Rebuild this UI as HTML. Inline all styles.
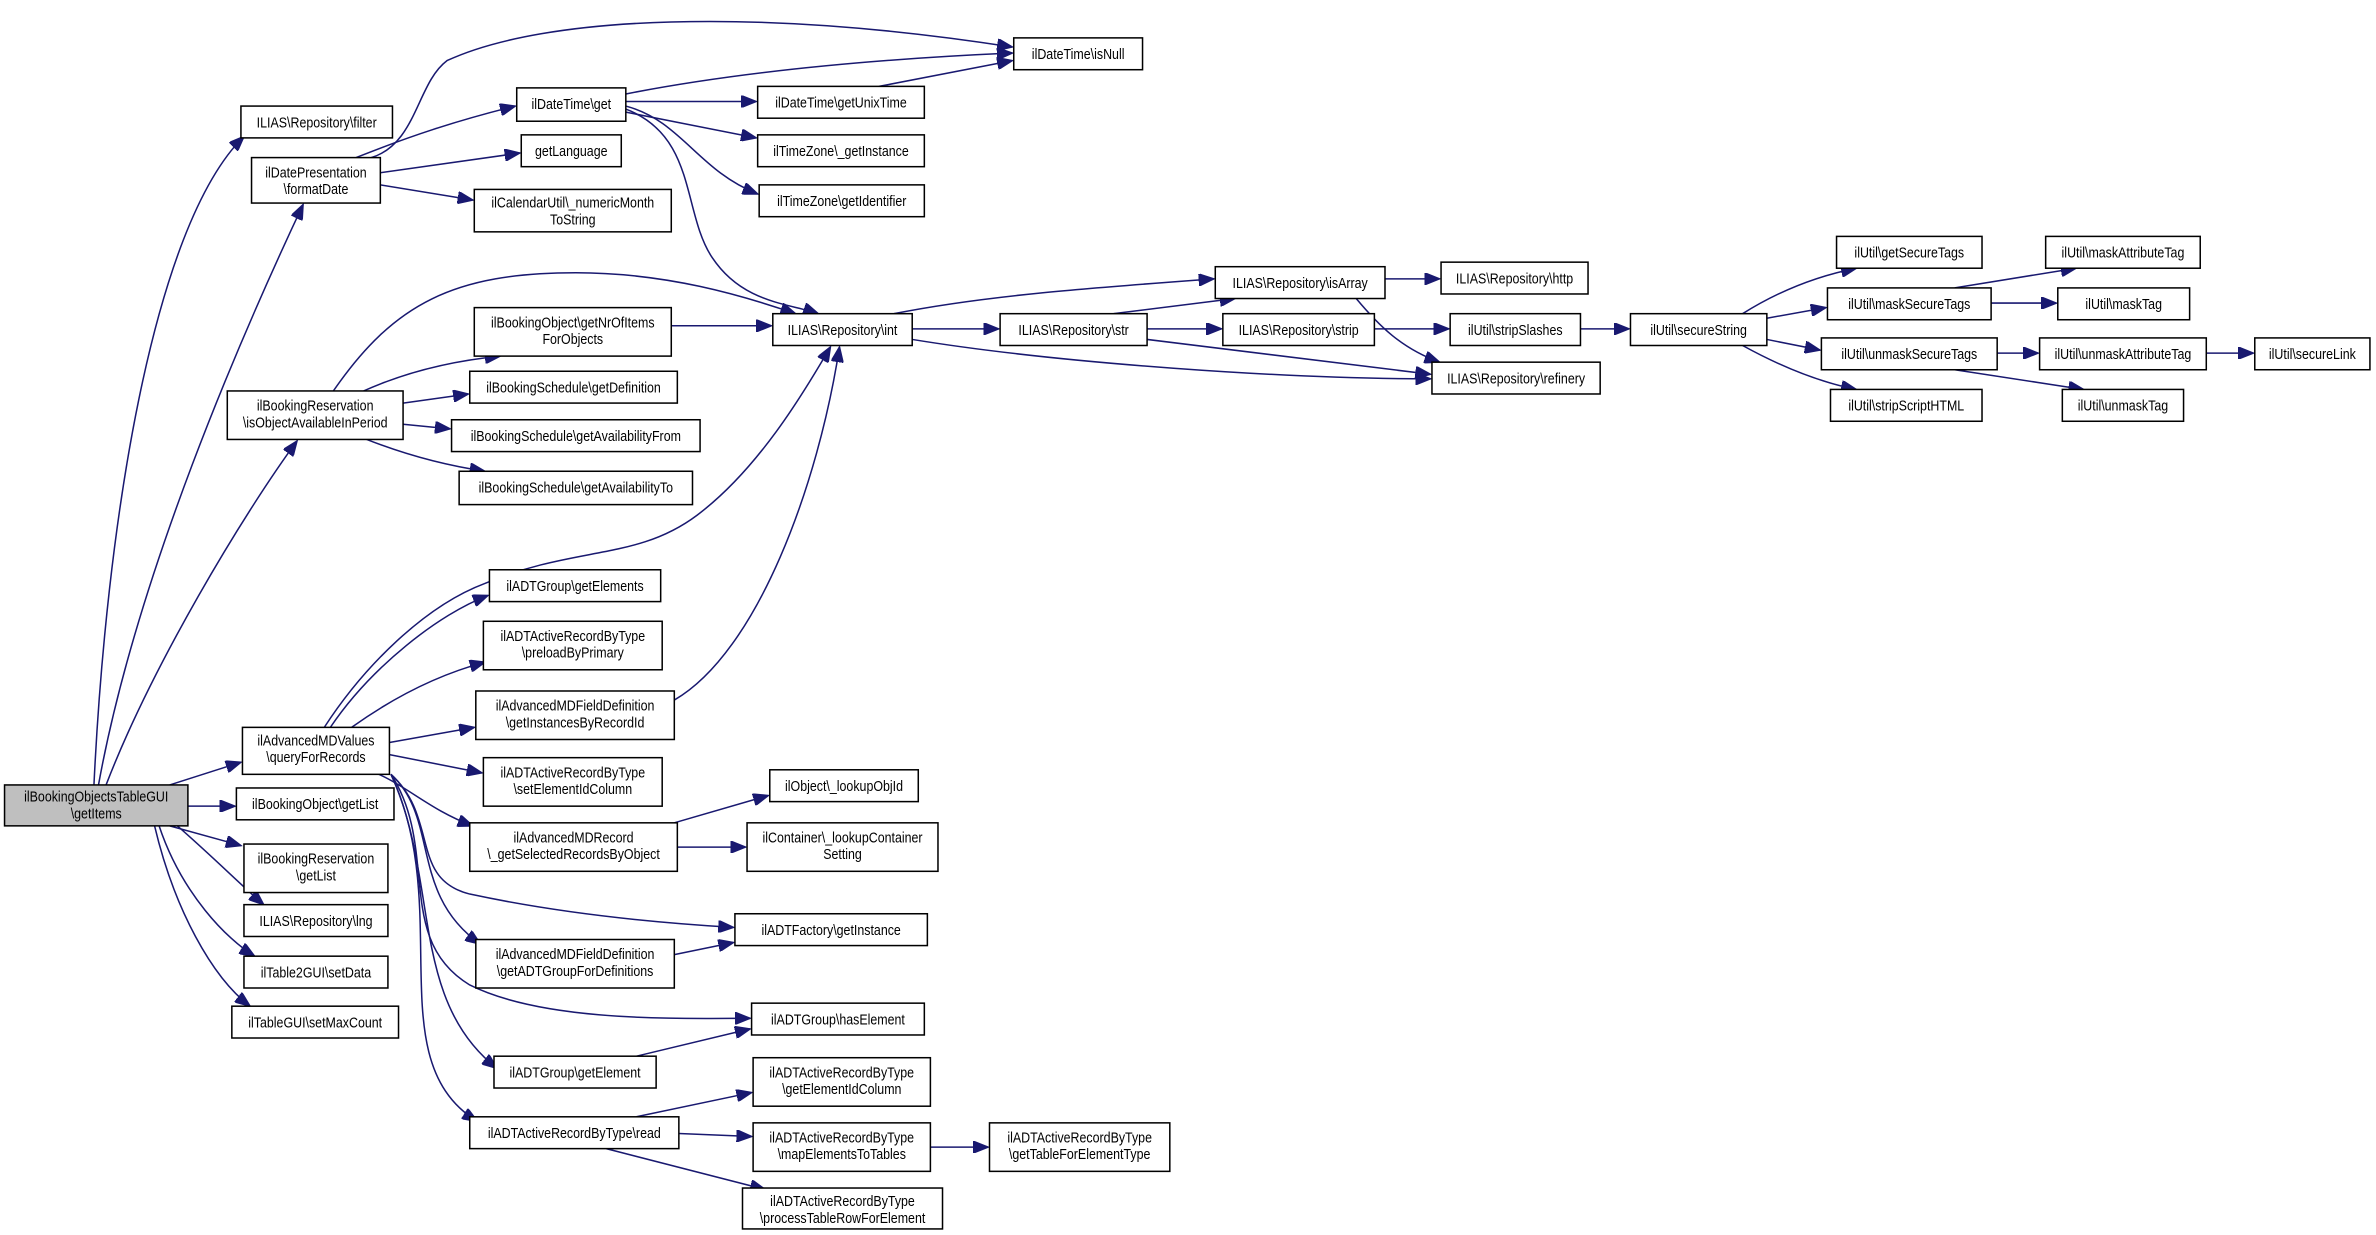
<!DOCTYPE html>
<html><head><meta charset="utf-8"><style>
html,body{margin:0;padding:0;background:#fff;}
svg{display:block;}
text{font-family:"Liberation Sans",sans-serif;font-size:10px;fill:#000;}
.b{fill:#fff;stroke:#000;stroke-width:1;}
.e{fill:none;stroke:#191970;stroke-width:1;}
</style></head><body>
<svg width="2376" height="1235" viewBox="0 0 1568 815" preserveAspectRatio="none" xmlns="http://www.w3.org/2000/svg">
<defs><marker id="a" markerUnits="userSpaceOnUse" markerWidth="11" markerHeight="8" refX="10" refY="4" orient="auto"><path d="M0,0 L10,4 L0,8 z" fill="#191970" stroke="#191970"/></marker></defs>
<g class="e" marker-end="url(#a)">
<path d="M62,518 C70,350 100,150 161,90"/>
<path d="M65,518 C90,380 160,220 200,135"/>
<path d="M70,518 C100,440 160,340 196,291"/>
<path d="M112,518 L159,503"/>
<path d="M124,532 L155,532"/>
<path d="M112,545 L159,558"/>
<path d="M117,545 C140,565 160,585 174,597"/>
<path d="M105,545 C120,590 150,620 168,631"/>
<path d="M102,545 C115,600 140,645 165,664"/>
<path d="M245,104 C275,95 275,55 295,40 C360,10 500,5 668,31"/>
<path d="M235,104 C270,90 300,80 340,70"/>
<path d="M251,114 L343,101"/>
<path d="M251,122 L312,132"/>
<path d="M413,62 C500,45 600,38 668,35"/>
<path d="M413,67 L499,67"/>
<path d="M413,74 L499,91"/>
<path d="M413,70 C450,80 460,112 500,128"/>
<path d="M413,72 C460,90 450,140 470,170 C490,200 520,200 540,207"/>
<path d="M580,57 L668,40"/>
<path d="M220,258 C260,200 300,180 380,180 C440,180 490,195 525,207"/>
<path d="M240,258 Q280,240 330,235"/>
<path d="M266,266 L309,260"/>
<path d="M266,280 L297,283"/>
<path d="M242,290 Q280,305 320,311"/>
<path d="M443,215 L509,215"/>
<path d="M214,480 C240,440 280,400 320,385 C380,360 420,370 460,340 C500,310 530,260 548,229"/>
<path d="M218,480 C245,440 290,405 322,393"/>
<path d="M232,480 C260,460 290,445 320,437"/>
<path d="M257,490 L313,480"/>
<path d="M257,498 L318,510"/>
<path d="M250,511 C270,520 285,535 312,545"/>
<path d="M258,511 C290,540 270,580 310,590 C380,605 450,610 484,612"/>
<path d="M258,511 C290,540 270,590 317,623"/>
<path d="M258,511 C290,560 260,620 310,650 C360,675 450,672 495,672"/>
<path d="M258,511 C290,580 270,660 328,705"/>
<path d="M258,511 C300,600 250,700 315,740"/>
<path d="M445,462 C500,430 540,320 554,229"/>
<path d="M445,543 L507,525"/>
<path d="M447,559 L492,559"/>
<path d="M445,630 L484,622"/>
<path d="M420,697 L495,679"/>
<path d="M420,737 L496,721"/>
<path d="M448,748 L496,750"/>
<path d="M400,758 L505,785"/>
<path d="M614,757 L652,757"/>
<path d="M590,207 C650,195 720,190 801,184"/>
<path d="M602,217 L659,217"/>
<path d="M602,224 C700,240 850,250 944,250"/>
<path d="M735,207 L815,197"/>
<path d="M757,217 L806,217"/>
<path d="M757,224 L944,247"/>
<path d="M914,184 L950,184"/>
<path d="M895,197 C910,215 925,230 950,239"/>
<path d="M907,217 L956,217"/>
<path d="M1043,217 L1075,217"/>
<path d="M1150,207 Q1185,185 1225,177"/>
<path d="M1166,210 L1205,203"/>
<path d="M1166,224 L1201,231"/>
<path d="M1150,228 Q1190,250 1225,257"/>
<path d="M1290,190 L1370,177"/>
<path d="M1314,200 L1357,200"/>
<path d="M1318,233 L1345,233"/>
<path d="M1290,244 L1375,257"/>
<path d="M1456,233 L1487,233"/>
</g>
<g id="nodes"></g>
<rect x="3" y="518" width="121" height="27" fill="#bfbfbf" stroke="#000"/>
<rect class="b" x="159" y="70" width="100" height="21"/>
<rect class="b" x="166" y="104" width="85" height="30"/>
<rect class="b" x="150" y="258" width="116" height="32"/>
<rect class="b" x="160" y="480" width="97" height="31"/>
<rect class="b" x="156" y="520" width="104" height="21"/>
<rect class="b" x="161" y="557" width="95" height="32"/>
<rect class="b" x="161" y="597" width="95" height="21"/>
<rect class="b" x="161" y="631" width="95" height="21"/>
<rect class="b" x="153" y="664" width="110" height="21"/>
<rect class="b" x="341" y="58" width="72" height="22"/>
<rect class="b" x="344" y="89" width="66" height="21"/>
<rect class="b" x="313" y="125" width="130" height="28"/>
<rect class="b" x="313" y="203" width="130" height="32"/>
<rect class="b" x="310" y="245" width="137" height="21"/>
<rect class="b" x="298" y="277" width="164" height="21"/>
<rect class="b" x="303" y="311" width="154" height="22"/>
<rect class="b" x="323" y="376" width="113" height="21"/>
<rect class="b" x="319" y="410" width="118" height="32"/>
<rect class="b" x="314" y="456" width="131" height="32"/>
<rect class="b" x="319" y="500" width="118" height="32"/>
<rect class="b" x="310" y="543" width="137" height="32"/>
<rect class="b" x="314" y="620" width="131" height="32"/>
<rect class="b" x="326" y="697" width="107" height="21"/>
<rect class="b" x="310" y="737" width="138" height="21"/>
<rect class="b" x="669" y="25" width="85" height="21"/>
<rect class="b" x="500" y="57" width="110" height="21"/>
<rect class="b" x="500" y="89" width="110" height="21"/>
<rect class="b" x="501" y="122" width="109" height="21"/>
<rect class="b" x="510" y="207" width="92" height="21"/>
<rect class="b" x="508" y="508" width="98" height="21"/>
<rect class="b" x="493" y="543" width="126" height="32"/>
<rect class="b" x="485" y="603" width="127" height="21"/>
<rect class="b" x="496" y="662" width="114" height="21"/>
<rect class="b" x="497" y="698" width="117" height="32"/>
<rect class="b" x="497" y="741" width="117" height="32"/>
<rect class="b" x="490" y="784" width="132" height="27"/>
<rect class="b" x="653" y="741" width="119" height="32"/>
<rect class="b" x="802" y="176" width="112" height="21"/>
<rect class="b" x="660" y="207" width="97" height="21"/>
<rect class="b" x="807" y="207" width="100" height="21"/>
<rect class="b" x="951" y="173" width="97" height="21"/>
<rect class="b" x="957" y="207" width="86" height="21"/>
<rect class="b" x="945" y="239" width="111" height="21"/>
<rect class="b" x="1076" y="207" width="90" height="21"/>
<rect class="b" x="1212" y="156" width="96" height="21"/>
<rect class="b" x="1206" y="190" width="108" height="21"/>
<rect class="b" x="1202" y="223" width="116" height="21"/>
<rect class="b" x="1208" y="257" width="100" height="21"/>
<rect class="b" x="1350" y="156" width="102" height="21"/>
<rect class="b" x="1358" y="190" width="87" height="21"/>
<rect class="b" x="1346" y="223" width="110" height="21"/>
<rect class="b" x="1361" y="257" width="80" height="21"/>
<rect class="b" x="1488" y="223" width="76" height="21"/>
<g text-anchor="middle">
<text transform="translate(63.5,529) scale(0.82,1)">ilBookingObjectsTableGUI</text>
<text transform="translate(63.5,540) scale(0.82,1)">\getItems</text>
<text transform="translate(209,84) scale(0.82,1)">ILIAS\Repository\filter</text>
<text transform="translate(208.5,117) scale(0.82,1)">ilDatePresentation</text>
<text transform="translate(208.5,128) scale(0.82,1)">\formatDate</text>
<text transform="translate(208,271) scale(0.82,1)">ilBookingReservation</text>
<text transform="translate(208,282) scale(0.82,1)">\isObjectAvailableInPeriod</text>
<text transform="translate(208.5,492) scale(0.82,1)">ilAdvancedMDValues</text>
<text transform="translate(208.5,503) scale(0.82,1)">\queryForRecords</text>
<text transform="translate(208,534) scale(0.82,1)">ilBookingObject\getList</text>
<text transform="translate(208.5,570) scale(0.82,1)">ilBookingReservation</text>
<text transform="translate(208.5,581) scale(0.82,1)">\getList</text>
<text transform="translate(208.5,611) scale(0.82,1)">ILIAS\Repository\lng</text>
<text transform="translate(208.5,645) scale(0.82,1)">ilTable2GUI\setData</text>
<text transform="translate(208,678) scale(0.82,1)">ilTableGUI\setMaxCount</text>
<text transform="translate(377,72) scale(0.82,1)">ilDateTime\get</text>
<text transform="translate(377,103) scale(0.82,1)">getLanguage</text>
<text transform="translate(378,137) scale(0.82,1)">ilCalendarUtil\_numericMonth</text>
<text transform="translate(378,148) scale(0.82,1)">ToString</text>
<text transform="translate(378,216) scale(0.82,1)">ilBookingObject\getNrOfItems</text>
<text transform="translate(378,227) scale(0.82,1)">ForObjects</text>
<text transform="translate(378.5,259) scale(0.82,1)">ilBookingSchedule\getDefinition</text>
<text transform="translate(380,291) scale(0.82,1)">ilBookingSchedule\getAvailabilityFrom</text>
<text transform="translate(380,325) scale(0.82,1)">ilBookingSchedule\getAvailabilityTo</text>
<text transform="translate(379.5,390) scale(0.82,1)">ilADTGroup\getElements</text>
<text transform="translate(378,423) scale(0.82,1)">ilADTActiveRecordByType</text>
<text transform="translate(378,434) scale(0.82,1)">\preloadByPrimary</text>
<text transform="translate(379.5,469) scale(0.82,1)">ilAdvancedMDFieldDefinition</text>
<text transform="translate(379.5,480) scale(0.82,1)">\getInstancesByRecordId</text>
<text transform="translate(378,513) scale(0.82,1)">ilADTActiveRecordByType</text>
<text transform="translate(378,524) scale(0.82,1)">\setElementIdColumn</text>
<text transform="translate(378.5,556) scale(0.82,1)">ilAdvancedMDRecord</text>
<text transform="translate(378.5,567) scale(0.82,1)">\_getSelectedRecordsByObject</text>
<text transform="translate(379.5,633) scale(0.82,1)">ilAdvancedMDFieldDefinition</text>
<text transform="translate(379.5,644) scale(0.82,1)">\getADTGroupForDefinitions</text>
<text transform="translate(379.5,711) scale(0.82,1)">ilADTGroup\getElement</text>
<text transform="translate(379,751) scale(0.82,1)">ilADTActiveRecordByType\read</text>
<text transform="translate(711.5,39) scale(0.82,1)">ilDateTime\isNull</text>
<text transform="translate(555,71) scale(0.82,1)">ilDateTime\getUnixTime</text>
<text transform="translate(555,103) scale(0.82,1)">ilTimeZone\_getInstance</text>
<text transform="translate(555.5,136) scale(0.82,1)">ilTimeZone\getIdentifier</text>
<text transform="translate(556,221) scale(0.82,1)">ILIAS\Repository\int</text>
<text transform="translate(557,522) scale(0.82,1)">ilObject\_lookupObjId</text>
<text transform="translate(556,556) scale(0.82,1)">ilContainer\_lookupContainer</text>
<text transform="translate(556,567) scale(0.82,1)">Setting</text>
<text transform="translate(548.5,617) scale(0.82,1)">ilADTFactory\getInstance</text>
<text transform="translate(553,676) scale(0.82,1)">ilADTGroup\hasElement</text>
<text transform="translate(555.5,711) scale(0.82,1)">ilADTActiveRecordByType</text>
<text transform="translate(555.5,722) scale(0.82,1)">\getElementIdColumn</text>
<text transform="translate(555.5,754) scale(0.82,1)">ilADTActiveRecordByType</text>
<text transform="translate(555.5,765) scale(0.82,1)">\mapElementsToTables</text>
<text transform="translate(556,796) scale(0.82,1)">ilADTActiveRecordByType</text>
<text transform="translate(556,807) scale(0.82,1)">\processTableRowForElement</text>
<text transform="translate(712.5,754) scale(0.82,1)">ilADTActiveRecordByType</text>
<text transform="translate(712.5,765) scale(0.82,1)">\getTableForElementType</text>
<text transform="translate(858,190) scale(0.82,1)">ILIAS\Repository\isArray</text>
<text transform="translate(708.5,221) scale(0.82,1)">ILIAS\Repository\str</text>
<text transform="translate(857,221) scale(0.82,1)">ILIAS\Repository\strip</text>
<text transform="translate(999.5,187) scale(0.82,1)">ILIAS\Repository\http</text>
<text transform="translate(1000,221) scale(0.82,1)">ilUtil\stripSlashes</text>
<text transform="translate(1000.5,253) scale(0.82,1)">ILIAS\Repository\refinery</text>
<text transform="translate(1121,221) scale(0.82,1)">ilUtil\secureString</text>
<text transform="translate(1260,170) scale(0.82,1)">ilUtil\getSecureTags</text>
<text transform="translate(1260,204) scale(0.82,1)">ilUtil\maskSecureTags</text>
<text transform="translate(1260,237) scale(0.82,1)">ilUtil\unmaskSecureTags</text>
<text transform="translate(1258,271) scale(0.82,1)">ilUtil\stripScriptHTML</text>
<text transform="translate(1401,170) scale(0.82,1)">ilUtil\maskAttributeTag</text>
<text transform="translate(1401.5,204) scale(0.82,1)">ilUtil\maskTag</text>
<text transform="translate(1401,237) scale(0.82,1)">ilUtil\unmaskAttributeTag</text>
<text transform="translate(1401,271) scale(0.82,1)">ilUtil\unmaskTag</text>
<text transform="translate(1526,237) scale(0.82,1)">ilUtil\secureLink</text>
</g>
</svg>
</body></html>
